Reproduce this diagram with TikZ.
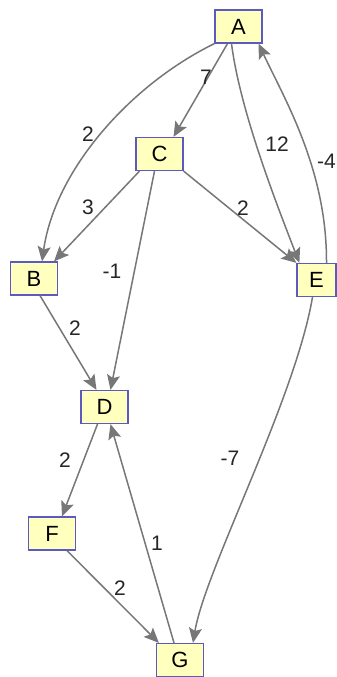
\documentclass[tikz,border=0pt]{standalone}
\usepackage{fontspec}
\setmainfont{Liberation Sans}
\usetikzlibrary{arrows.meta}
\definecolor{vfill}{HTML}{FFFFBE}
\definecolor{vdraw}{HTML}{5A5AC0}
\definecolor{egray}{HTML}{777777}
\begin{document}
\begin{tikzpicture}[x=1pt,y=-1pt,
  vertex/.style={draw=vdraw, fill=vfill, line width=1.2pt, minimum width=47pt,
    minimum height=33pt, inner sep=0pt, font=\fontsize{22}{22}\selectfont},
  edge/.style={draw=egray, line width=1.5pt,
    -{Stealth[length=15pt,width=13pt,inset=3pt]}},
  wlabel/.style={inner sep=0pt, text=black!85, font=\fontsize{21}{21}\selectfont}]
\path[use as bounding box] (0,0) rectangle (337,677);
\clip (0,0) rectangle (337,677);
\fill[white] (0,0) rectangle (337,677);

% vertices
\node[vertex] (A) at (238.5,26.5) {A};
\node[vertex] (C) at (159.5,154) {C};
\node[vertex] (B) at (34,278.5) {B};
\node[vertex, minimum width=39pt] (E) at (316.5,280) {E};
\node[vertex] (D) at (104.5,407) {D};
\node[vertex] (F) at (52,533.5) {F};
\node[vertex] (G) at (180,660) {G};

% weighted edges
\draw[edge] (A.south west) .. controls (130,85) and (55,170) .. ([xshift=8pt]B.north);
\draw[edge] ([xshift=-11pt]A.south) -- ([xshift=14pt]C.north);
\draw[edge] ([xshift=-7pt]A.south) .. controls (240,110) and (275,200) .. ([xshift=3pt]E.north west);
\draw[edge] ([xshift=10pt]E.north) .. controls (327,170) and (285,100) .. ([xshift=20pt]A.south);
\draw[edge] ([xshift=-20pt]C.south) -- ([xshift=20pt]B.north);
\draw[edge] (C.south east) -- (E.north west);
\draw[edge] ([xshift=-5pt]C.south) -- ([xshift=6pt]D.north);
\draw[edge] ([xshift=6pt]B.south) -- ([xshift=-8pt]D.north);
\draw[edge] ([xshift=-7pt]D.south) -- ([xshift=10pt]F.north);
\draw[edge] ([xshift=-6pt]G.north) -- ([xshift=6pt]D.south);
\draw[edge] ([xshift=15pt]F.south) -- ([xshift=3pt]G.north west);
\draw[edge] ([xshift=-4pt]E.south) .. controls (295,400) and (205,570) .. ([xshift=13pt]G.north);

% weights
\node[wlabel] (wAC) at (206,77) {7};
\node[wlabel] (wAB) at (88,134) {2};
\node[wlabel] (wAE) at (277,144) {12};
\node[wlabel, anchor=east] (wEA) at (336,161) {-4};
\node[wlabel] (wCB) at (88,207) {3};
\node[wlabel] (wCE) at (243,208) {2};
\node[wlabel] (wCD) at (112,271) {-1};
\node[wlabel] (wBD) at (75,328) {2};
\node[wlabel] (wDF) at (65,460) {2};
\node[wlabel] (wEG) at (230,458) {-7};
\node[wlabel] (wGD) at (157,543) {1};
\node[wlabel] (wFG) at (120,588) {2};
\end{tikzpicture}
\end{document}
